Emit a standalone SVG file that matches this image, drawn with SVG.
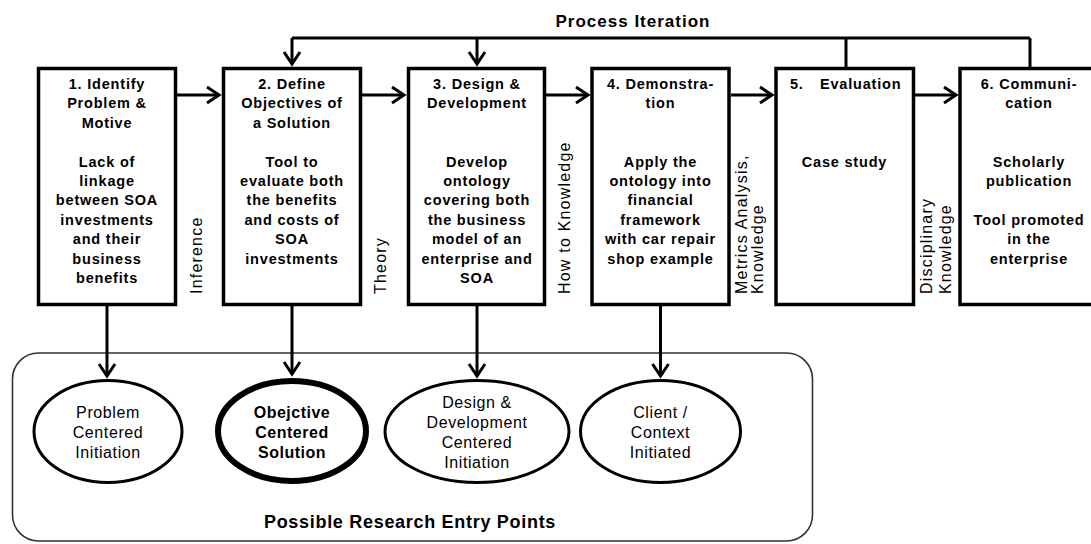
<svg xmlns="http://www.w3.org/2000/svg" width="1091" height="544" viewBox="0 0 1091 544">
<defs>
<style>
.box{fill:#fff;stroke:#000;stroke-width:3.5}
.bt{font-family:"Liberation Sans",Arial,sans-serif;font-weight:bold;font-size:14.5px;letter-spacing:0.8px;text-anchor:middle;fill:#000}
.et{font-family:"Liberation Sans",Arial,sans-serif;font-size:16px;letter-spacing:0.6px;text-anchor:middle;fill:#000}
.etb{font-family:"Liberation Sans",Arial,sans-serif;font-weight:bold;font-size:16px;letter-spacing:0.5px;text-anchor:middle;fill:#000}
.vt{font-family:"Liberation Sans",Arial,sans-serif;font-size:16px;letter-spacing:1.2px;fill:#000}
.ttl{font-family:"Liberation Sans",Arial,sans-serif;font-weight:bold;font-size:17px;letter-spacing:1px;text-anchor:middle;fill:#000}
.ln{fill:none;stroke:#000;stroke-width:3}
.arr{fill:none;stroke:#000;stroke-width:3;marker-end:url(#ah)}
.ell{fill:#fff;stroke:#000;stroke-width:3}
</style>
<marker id="ah" markerUnits="userSpaceOnUse" markerWidth="24" markerHeight="24" viewBox="-16 -12 24 24" refX="0" refY="0" orient="auto">
<path d="M-12,-8 L0,0 L-12,8" fill="none" stroke="#000" stroke-width="3"/>
</marker>
</defs>

<g id="container">
<rect x="12.5" y="353" width="800" height="188" rx="26" ry="26" fill="none" stroke="#333" stroke-width="1.6"/>
<text class="ttl" x="410" y="528" style="font-size:18px;letter-spacing:0.7px">Possible Research Entry Points</text>
</g>

<g id="connectors">
<text class="ttl" x="633" y="27">Process Iteration</text>
<polyline class="ln" points="292,38 1030,38"/>
<line class="arr" x1="292" y1="38" x2="292" y2="64"/>
<line class="arr" x1="477" y1="38" x2="477" y2="64"/>
<line class="ln" x1="846" y1="38" x2="846" y2="67"/>
<line class="ln" x1="1030" y1="38" x2="1030" y2="67"/>
<line class="arr" x1="177" y1="95" x2="219" y2="95"/>
<line class="arr" x1="362" y1="95" x2="404" y2="95"/>
<line class="arr" x1="546" y1="95" x2="588" y2="95"/>
<line class="arr" x1="731" y1="95" x2="772" y2="95"/>
<line class="arr" x1="915" y1="95" x2="956" y2="95"/>
<line class="arr" x1="107" y1="306" x2="107" y2="376"/>
<line class="arr" x1="292" y1="306" x2="292" y2="374"/>
<line class="arr" x1="477" y1="306" x2="477" y2="376"/>
<line class="arr" x1="660.5" y1="306" x2="660.5" y2="376"/>
<text class="vt" transform="translate(202,294) rotate(-90)">Inference</text>
<text class="vt" transform="translate(386,294) rotate(-90)">Theory</text>
<text class="vt" transform="translate(570,294) rotate(-90)">How to Knowledge</text>
<text class="vt" transform="translate(747,294) rotate(-90)">Metrics Analysis,</text>
<text class="vt" transform="translate(763,294) rotate(-90)">Knowledge</text>
<text class="vt" transform="translate(932,294) rotate(-90)">Disciplinary</text>
<text class="vt" transform="translate(951,294) rotate(-90)">Knowledge</text>
</g>

<g id="box1">
<rect class="box" x="38.5" y="68.5" width="137" height="236"/>
<text class="bt"><tspan x="107" y="89">1. Identify</tspan><tspan x="107" y="108.4">Problem &amp;</tspan><tspan x="107" y="127.8">Motive</tspan><tspan x="107" y="166.6">Lack of</tspan><tspan x="107" y="186">linkage</tspan><tspan x="107" y="205.4">between SOA</tspan><tspan x="107" y="224.8">investments</tspan><tspan x="107" y="244.2">and their</tspan><tspan x="107" y="263.6">business</tspan><tspan x="107" y="283">benefits</tspan></text>
</g>

<g id="box2">
<rect class="box" x="223.5" y="68.5" width="137" height="236"/>
<text class="bt"><tspan x="292" y="89">2. Define</tspan><tspan x="292" y="108.4">Objectives of</tspan><tspan x="292" y="127.8">a Solution</tspan><tspan x="292" y="166.6">Tool to</tspan><tspan x="292" y="186">evaluate both</tspan><tspan x="292" y="205.4">the benefits</tspan><tspan x="292" y="224.8">and costs of</tspan><tspan x="292" y="244.2">SOA</tspan><tspan x="292" y="263.6">investments</tspan></text>
</g>

<g id="box3">
<rect class="box" x="408.5" y="68.5" width="136" height="236"/>
<text class="bt"><tspan x="477" y="89">3. Design &amp;</tspan><tspan x="477" y="108.4">Development</tspan><tspan x="477" y="166.6">Develop</tspan><tspan x="477" y="186">ontology</tspan><tspan x="477" y="205.4">covering both</tspan><tspan x="477" y="224.8">the business</tspan><tspan x="477" y="244.2">model of an</tspan><tspan x="477" y="263.6">enterprise and</tspan><tspan x="477" y="283">SOA</tspan></text>
</g>

<g id="box4">
<rect class="box" x="592" y="68.5" width="137" height="236"/>
<text class="bt"><tspan x="660.5" y="89">4. Demonstra-</tspan><tspan x="660.5" y="108.4">tion</tspan><tspan x="660.5" y="166.6">Apply the</tspan><tspan x="660.5" y="186">ontology into</tspan><tspan x="660.5" y="205.4">financial</tspan><tspan x="660.5" y="224.8">framework</tspan><tspan x="660.5" y="244.2">with car repair</tspan><tspan x="660.5" y="263.6">shop example</tspan></text>
</g>

<g id="box5">
<rect class="box" x="776" y="68.5" width="137.5" height="236"/>
<text class="bt" style="text-anchor:start"><tspan x="790" y="89">5.</tspan><tspan x="820" y="89">Evaluation</tspan></text>
<text class="bt"><tspan x="844.5" y="166.6">Case study</tspan></text>
</g>

<g id="box6">
<rect class="box" x="960" y="68.5" width="140" height="236"/>
<text class="bt"><tspan x="1029" y="89">6. Communi-</tspan><tspan x="1029" y="108.4">cation</tspan><tspan x="1029" y="166.6">Scholarly</tspan><tspan x="1029" y="186">publication</tspan><tspan x="1029" y="224.8">Tool promoted</tspan><tspan x="1029" y="244.2">in the</tspan><tspan x="1029" y="263.6">enterprise</tspan></text>
</g>

<g id="e1">
<ellipse class="ell" cx="108" cy="431.5" rx="74" ry="51"/>
<text class="et"><tspan x="108" y="418">Problem</tspan><tspan x="108" y="438">Centered</tspan><tspan x="108" y="458">Initiation</tspan></text>
</g>

<g id="e2">
<ellipse class="ell" cx="292" cy="431" rx="74" ry="50" style="stroke-width:6"/>
<text class="etb"><tspan x="292" y="418">Obejctive</tspan><tspan x="292" y="438">Centered</tspan><tspan x="292" y="458">Solution</tspan></text>
</g>

<g id="e3">
<ellipse class="ell" cx="477" cy="431.5" rx="92" ry="51"/>
<text class="et"><tspan x="477" y="408">Design &amp;</tspan><tspan x="477" y="428">Development</tspan><tspan x="477" y="448">Centered</tspan><tspan x="477" y="468">Initiation</tspan></text>
</g>

<g id="e4">
<ellipse class="ell" cx="660.5" cy="431.5" rx="80" ry="51"/>
<text class="et"><tspan x="660.5" y="418">Client /</tspan><tspan x="660.5" y="438">Context</tspan><tspan x="660.5" y="458">Initiated</tspan></text>
</g>
</svg>
